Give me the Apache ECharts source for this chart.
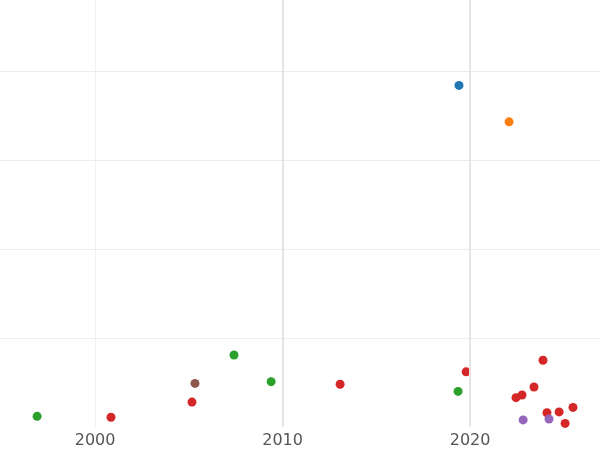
<!DOCTYPE html><html><head><meta charset="utf-8"><script src="https://cdn.jsdelivr.net/npm/echarts@6/dist/echarts.min.js"></script></head><body style="margin:0"><div id="c" style="width:600px;height:450px"></div><script>
const xTicks=[2000,2010,2020];
const blue=[[2019.41,3.84]];
const orange=[[2022.08,3.43]];
const green=[[1996.91,0.12],[2007.41,0.81],[2009.39,0.51],[2019.36,0.40]];
const red=[[2000.85,0.11],[2005.17,0.28],[2013.07,0.48],[2019.79,0.62],[2023.89,0.75],[2023.41,0.45],[2022.45,0.33],[2022.77,0.36],[2024.1,0.16],[2024.75,0.17],[2025.49,0.22],[2025.07,0.04]];
const brown=[[2005.33,0.49]];
const purple=[[2022.83,0.08],[2024.21,0.09]];
const groups=[[blue,'#1f77b4'],[orange,'#ff7f0e'],[green,'#2ca02c'],[red,'#d62728'],[brown,'#8c564b'],[purple,'#9467bd']];
const series=groups.map(([d,c])=>({type:'scatter',data:d,symbolSize:9,itemStyle:{color:c,opacity:1}}));
series[0].markLine={silent:true,symbol:'none',label:{show:false},data:xTicks.map((v,i)=>({xAxis:v,lineStyle:{color:i==0?'#efefef':'#e4e4e4',width:i==0?1:2,type:'solid'}}))};
const chart=echarts.init(document.getElementById('c'));
chart.setOption({animation:false,grid:{left:0,right:0,top:0,bottom:23},
xAxis:{type:'value',min:1994.93,max:2026.93,axisLine:{show:false},axisTick:{show:false},splitLine:{show:false},
axisLabel:{customValues:xTicks,formatter:v=>String(v),color:'#555',fontSize:16,margin:6,fontFamily:'DejaVu Sans'}},
yAxis:{type:'value',min:0,max:4.8,interval:1,axisLabel:{show:false},axisLine:{show:false},axisTick:{show:false},splitLine:{showMinLine:false,showMaxLine:false,lineStyle:{color:'#ececec'}}},
series});
</script></body></html>
